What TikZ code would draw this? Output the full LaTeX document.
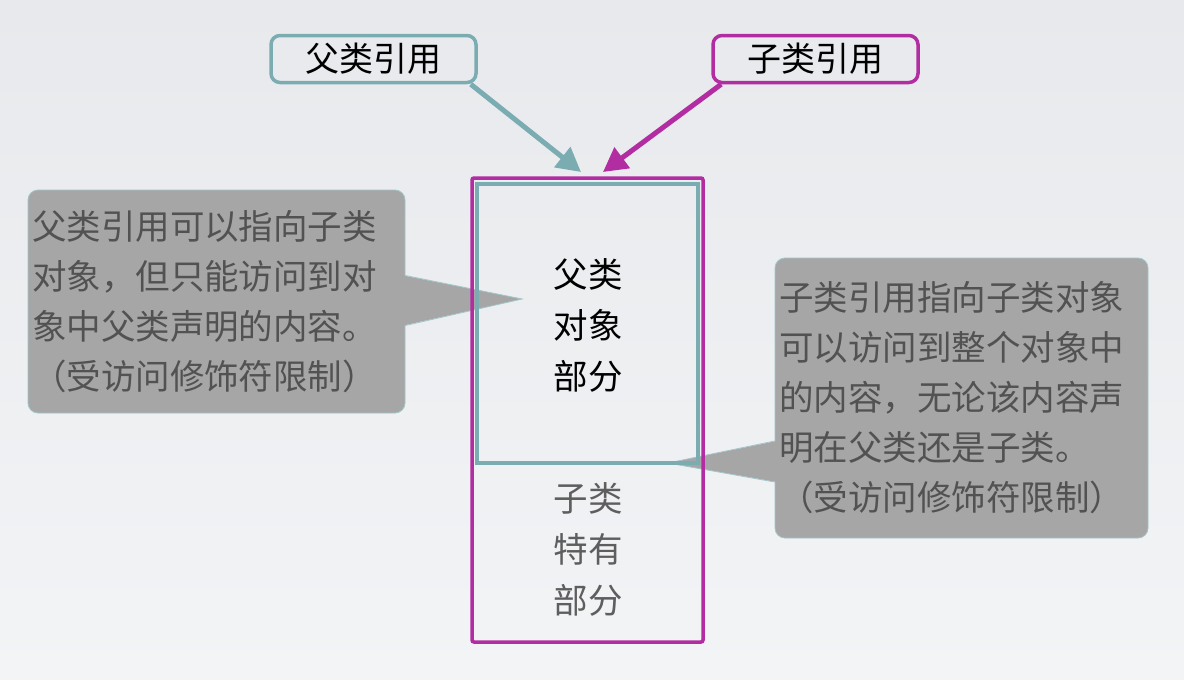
\documentclass[tikz,border=0pt]{standalone}
\usepackage{fontspec}
\newfontfamily\cjk{Noto Sans CJK SC}
\usetikzlibrary{arrows.meta, calc}

\definecolor{refteal}{HTML}{7AACB2}
\definecolor{refpink}{HTML}{B22CA2}
\definecolor{notegray}{HTML}{A6A6A6}
\definecolor{notetext}{HTML}{525252}
\definecolor{subtext}{HTML}{5E5E5E}
\definecolor{bgtop}{HTML}{E7E9EC}
\definecolor{bgbottom}{HTML}{F3F4F6}

\begin{document}
\begin{tikzpicture}[
    x=1pt, y=-1pt,
    refbox/.style={draw, line width=3.5pt, rounded corners=9pt, minimum width=205pt, minimum height=47pt, inner sep=0pt, font=\cjk\fontsize{34}{40}\selectfont},
    refarrow/.style={line width=5pt, -{Triangle[length=24pt, width=25pt]}},
    % bulles grises
    note/.style={fill=notegray, draw=refteal!70, line width=0.8pt, rounded corners=10pt, inner xsep=4pt, inner ysep=0pt, align=left, text=notetext, font=\cjk\fontsize{34.5}{50}\selectfont},
    notetip/.style={draw=refteal!70, line width=0.8pt},
    partbox/.style={draw, line width=3.5pt, inner sep=0pt},
    parttext/.style={align=center, font=\cjk\fontsize{34.5}{51}\selectfont}
]
\tikzstyle{every node}=[font=\cjk]

% --- FOND ---
\useasboundingbox (0,0) rectangle (1184,680);
\shade[top color=bgtop, bottom color=bgbottom] (0,0) rectangle (1184,680);

% --- BULLES ---
\node[note, minimum width=377pt, minimum height=223pt, text width=369pt] (lnote) at (216.5,301.5)
    {父类引用可以指向子类\\对象，但只能访问到对\\象中父类声明的内容。\\（受访问修饰符限制）};
\coordinate (ltip) at (522,299);
\fill[notegray] ($(lnote.east)+(-2,-26)$) -- (ltip) -- ($(lnote.east)+(-2,24)$) -- cycle;
\draw[notetip] ($(lnote.east)+(0,-26)$) -- (ltip) -- ($(lnote.east)+(0,24)$);

\node[note, minimum width=373pt, minimum height=280pt, text width=365pt] (rnote) at (961.5,398)
    {子类引用指向子类对象\\可以访问到整个对象中\\的内容，无论该内容声\\明在父类还是子类。\\（受访问修饰符限制）};
\coordinate (rtip) at (668,463);
\fill[notegray] ($(rnote.west)+(2,43)$) -- (rtip) -- ($(rnote.west)+(2,84)$) -- cycle;
\draw[notetip] ($(rnote.west)+(0,43)$) -- (rtip) -- ($(rnote.west)+(0,84)$);

% --- OBJET ---
\node[partbox, draw=refteal, minimum width=221pt, minimum height=279pt] (superpart) at (587.5,323.5) {};
\node[parttext] (supertext) at (588,325) {父类\\对象\\部分};
\node[partbox, draw=refpink, minimum width=231pt, minimum height=464pt, rounded corners=2pt] (objbox) at (587.5,410) {};
\node[parttext, text=subtext] (subtext) at (588,549) {子类\\特有\\部分};

% --- REFERENCES ---
\node[refbox, draw=refteal] (fref) at (373.5,59) {父类引用};
\node[refbox, draw=refpink] (cref) at (815.5,59) {子类引用};

\coordinate (ftip) at (581,172);
\coordinate (ctip) at (603,172);
\draw[refarrow, refteal] ([xshift=-7pt]fref.south east) -- (ftip);
\draw[refarrow, refpink] ([xshift=10pt]cref.south west) -- (ctip);

\end{tikzpicture}
\end{document}
